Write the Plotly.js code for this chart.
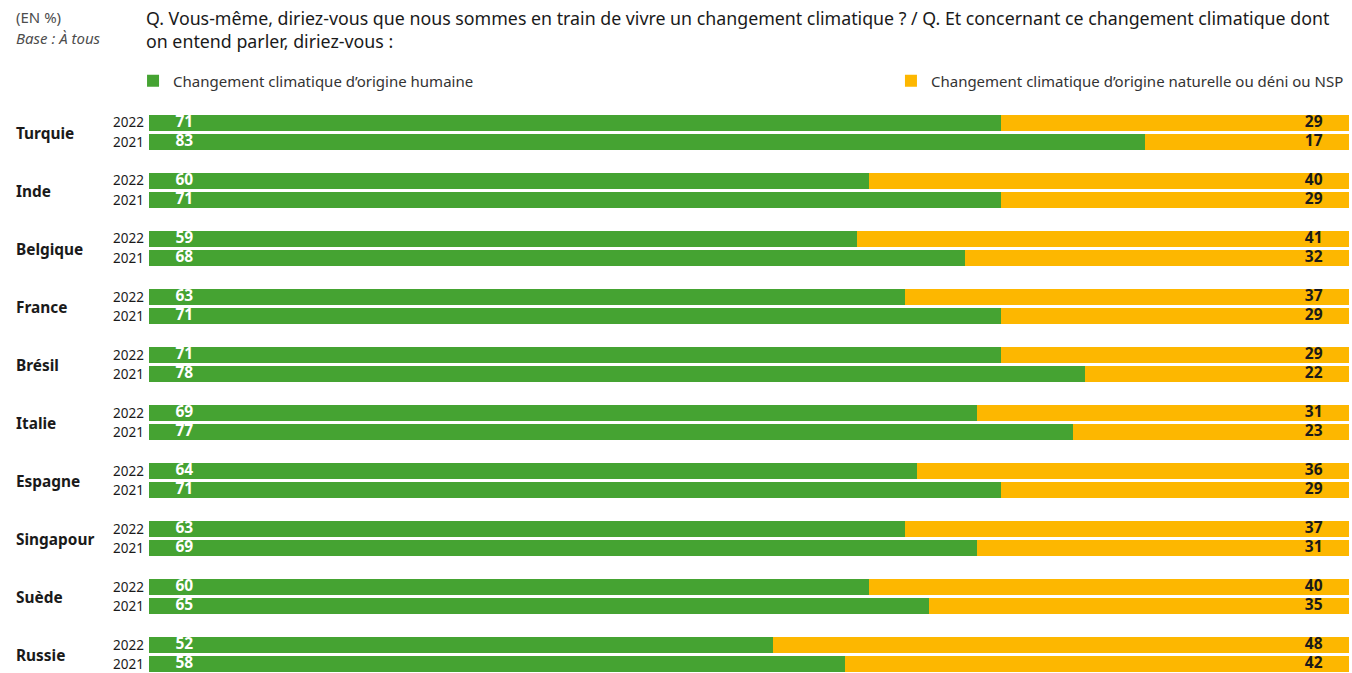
<!DOCTYPE html>
<html>
<head>
<meta charset="utf-8">
<script src="https://cdn.plot.ly/plotly-3.0.1.min.js"></script>
<style>
  html, body { margin: 0; padding: 0; background: #fff; }
  #plot { width: 1352px; height: 673px; }
</style>
</head>
<body>
<div id="plot"></div>
<script>
// Pays et années, dans l'ordre d'affichage (haut vers bas)
var countries = ['Turquie', 'Inde', 'Belgique', 'France', 'Brésil', 'Italie', 'Espagne', 'Singapour', 'Suède', 'Russie'];
var years = ['2022', '2021'];

// Changement climatique d'origine humaine (%)
var human2022 = [71, 60, 59, 63, 71, 69, 64, 63, 60, 52];
var human2021 = [83, 71, 68, 71, 78, 77, 71, 69, 65, 58];
// Origine naturelle ou déni ou NSP (%)
var other2022 = [29, 40, 41, 37, 29, 31, 36, 37, 40, 48];
var other2021 = [17, 29, 32, 29, 22, 23, 29, 31, 35, 42];

var GREEN = '#45a332';
var ORANGE = '#fdb700';
var FONT = 'Noto Sans, Open Sans, sans-serif';

// Each country takes 3 slots: 2022, 2021, then an empty gap
var yPos = [], yearText = [], human = [], other = [];
for (var i = 0; i < countries.length; i++) {
    yPos.push(i * 3, i * 3 + 1);
    yearText.push(years[0], years[1]);
    human.push(human2022[i], human2021[i]);
    other.push(other2022[i], other2021[i]);
}

var traces = [
    {
        type: 'bar', orientation: 'h', legend: 'legend',
        name: 'Changement climatique d’origine humaine',
        x: human, y: yPos, width: 0.84,
        marker: { color: GREEN, line: { width: 0 } },
        hoverinfo: 'x'
    },
    {
        type: 'bar', orientation: 'h', legend: 'legend2',
        name: 'Changement climatique d’origine naturelle ou déni ou NSP',
        x: other, y: yPos, width: 0.84,
        marker: { color: ORANGE, line: { width: 0 } },
        hoverinfo: 'x'
    },
    // value labels
    {
        type: 'scatter', mode: 'text', showlegend: false, hoverinfo: 'skip',
        x: yPos.map(function () { return 2.2; }), y: yPos,
        text: human.map(String), textposition: 'middle right',
        textfont: { family: FONT, size: 15.5, color: '#ffffff', weight: 'bold' }
    },
    {
        type: 'scatter', mode: 'text', showlegend: false, hoverinfo: 'skip',
        x: yPos.map(function () { return 97.8; }), y: yPos,
        text: other.map(String), textposition: 'middle left',
        textfont: { family: FONT, size: 15.5, color: '#1a1a1a', weight: 'bold' }
    }
];

// header texts, placed relative to the top of the plot area (113px)
var annotations = [
    {
        xref: 'paper', yref: 'paper', x: -0.1125, y: 1, yshift: 96, xanchor: 'left', yanchor: 'middle',
        text: '(EN %)', showarrow: false, font: { family: FONT, size: 15, color: '#4d4d4d' }
    },
    {
        xref: 'paper', yref: 'paper', x: -0.1125, y: 1, yshift: 75, xanchor: 'left', yanchor: 'middle',
        text: '<i>Base : À tous</i>', showarrow: false, font: { family: FONT, size: 15, color: '#4d4d4d' }
    },
    {
        xref: 'paper', yref: 'paper', x: -0.0045, y: 1, yshift: 84, xanchor: 'left', yanchor: 'middle', align: 'left',
        text: 'Q. Vous-même, diriez-vous que nous sommes en train de vivre un changement climatique ? / Q. Et concernant ce changement climatique dont<br>on entend parler, diriez-vous :',
        showarrow: false, font: { family: FONT, size: 17.8, color: '#1a1a1a' }
    }
];
countries.forEach(function (c, i) {
    annotations.push({
        xref: 'paper', yref: 'y', x: -0.1125, y: i * 3 + 0.5, yshift: -1, xanchor: 'left', yanchor: 'middle',
        text: '<b>' + c + '</b>', showarrow: false, font: { family: FONT, size: 15.4, color: '#1a1a1a' }
    });
});

var legendBase = {
    orientation: 'h', yref: 'container', y: 1 - 81 / 673, yanchor: 'middle', xanchor: 'left',
    font: { family: FONT, size: 15, color: '#333' },
    bgcolor: 'rgba(0,0,0,0)', itemclick: false, itemdoubleclick: false
};

var layout = {
    width: 1352, height: 673,
    margin: { l: 149, r: 3, t: 113, b: 0 },
    paper_bgcolor: '#fff', plot_bgcolor: '#fff',
    barmode: 'stack',
    font: { family: FONT, color: '#1a1a1a' },
    showlegend: true,
    legend: Object.assign({}, legendBase, { x: -0.0133 }),
    legend2: Object.assign({}, legendBase, { x: 0.6183 }),
    xaxis: {
        range: [0, 100], showgrid: false, zeroline: false, showticklabels: false,
        ticks: '', fixedrange: true
    },
    yaxis: {
        range: [28.45, -0.5], showgrid: false, zeroline: false,
        tickvals: yPos, ticktext: yearText, ticks: '', ticklabelstandoff: 4,
        ticklabeloverflow: 'allow',
        tickfont: { family: FONT, size: 13.5, color: '#1a1a1a' }, fixedrange: true
    },
    annotations: annotations
};

Plotly.newPlot('plot', traces, layout, { displayModeBar: false, responsive: false });
</script>
</body>
</html>
